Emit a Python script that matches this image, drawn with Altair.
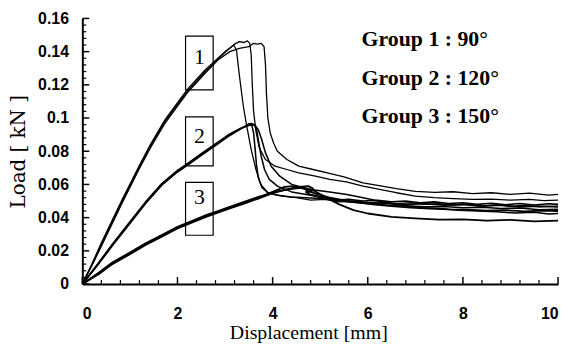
import altair as alt
import pandas as pd

# ---------------- data ----------------
# Group 1 (90 deg) - three specimens
g1a_x = [0, 0.2, 0.42, 0.84, 1.19, 1.43, 1.74, 2.02, 2.23, 2.58, 2.85, 3.0, 3.1, 3.18, 3.24, 3.3, 3.38, 3.45, 3.55, 3.65,
         3.75, 3.9, 4.2, 4.5, 4.8, 5.1, 5.4, 5.7, 6.0, 6.3, 6.6, 6.9, 7.2, 7.5, 7.8, 8.1, 8.4, 8.7, 9.0, 9.3, 9.6, 10.0]
g1a_y = [0, 0.012, 0.026, 0.051, 0.071, 0.084, 0.099, 0.110, 0.118, 0.129, 0.136, 0.140, 0.142, 0.144, 0.141, 0.126, 0.108, 0.096, 0.081, 0.069,
         0.060, 0.055, 0.053, 0.052, 0.0505, 0.051, 0.0495, 0.050, 0.049, 0.0495, 0.0485, 0.049, 0.048, 0.0485, 0.0475, 0.048, 0.047, 0.0478, 0.0468, 0.0475, 0.0465, 0.047]

g1b_x = [0, 0.2, 0.42, 0.84, 1.19, 1.43, 1.74, 2.02, 2.23, 2.58, 2.85, 3.05, 3.2, 3.3, 3.4, 3.47, 3.52, 3.55, 3.57, 3.6,
         3.65, 3.72, 3.85, 4.05, 4.3, 4.55, 4.9, 5.2, 5.55, 5.9, 6.25, 6.6, 7.0, 7.4, 7.8, 8.2, 8.6, 9.0, 9.4, 9.7, 10.0]
g1b_y = [0, 0.0115, 0.025, 0.050, 0.070, 0.083, 0.098, 0.109, 0.117, 0.128, 0.1355, 0.141, 0.1445, 0.146, 0.1455, 0.1465, 0.145, 0.138, 0.122, 0.104,
         0.092, 0.082, 0.075, 0.071, 0.069, 0.067, 0.065, 0.063, 0.0615, 0.059, 0.057, 0.055, 0.053, 0.052, 0.0515, 0.051, 0.0512, 0.0505, 0.051, 0.0503, 0.0505]

g1c_x = [0, 0.2, 0.42, 0.84, 1.19, 1.43, 1.74, 2.02, 2.23, 2.58, 2.85, 3.1, 3.3, 3.5, 3.6, 3.68, 3.76, 3.82, 3.85, 3.87,
         3.9, 3.95, 4.02, 4.1, 4.3, 4.55, 4.85, 5.15, 5.5, 5.9, 6.3, 6.6, 7.0, 7.4, 7.8, 8.2, 8.6, 9.0, 9.4, 9.8, 10.0]
g1c_y = [0, 0.011, 0.024, 0.049, 0.069, 0.082, 0.097, 0.108, 0.116, 0.127, 0.135, 0.140, 0.142, 0.143, 0.145, 0.1445, 0.145, 0.143, 0.132, 0.115,
         0.100, 0.091, 0.085, 0.080, 0.075, 0.071, 0.069, 0.067, 0.0645, 0.061, 0.059, 0.0575, 0.0558, 0.0552, 0.0556, 0.0545, 0.055, 0.054, 0.0548, 0.0535, 0.054]

# Group 2 (120 deg)
g2a_x = [0, 0.3, 0.63, 1.0, 1.33, 1.67, 2.0, 2.23, 2.5, 2.85, 3.1, 3.3,
         3.42, 3.5, 3.56, 3.6, 3.63, 3.66, 3.7, 3.78, 3.9, 4.1, 4.4, 4.7, 5.0, 5.3, 5.6, 5.9, 6.2, 6.5, 6.8, 7.1,
         7.4, 7.7, 8.0, 8.3, 8.6, 8.9, 9.2, 9.5, 9.8, 10.0]
g2a_y = [0, 0.011, 0.0235, 0.037, 0.049, 0.060, 0.068, 0.0725, 0.078, 0.085, 0.090, 0.093,
         0.095, 0.0965, 0.096, 0.091, 0.082, 0.072, 0.064, 0.058, 0.055, 0.0535, 0.0525, 0.052, 0.0515, 0.0505, 0.051, 0.050, 0.0505, 0.0495, 0.050, 0.049,
         0.0495, 0.0485, 0.049, 0.048, 0.0487, 0.0478, 0.0485, 0.0476, 0.0484, 0.048]

g2b_x = [0, 0.3, 0.63, 1.0, 1.33, 1.67, 2.0, 2.23, 2.5, 2.85, 3.1, 3.3, 3.45, 3.55, 3.62, 3.67, 3.71, 3.76, 3.83, 3.93,
         4.1, 4.4, 4.8, 5.2, 5.6, 6.0, 6.4, 6.8, 7.2, 7.6, 8.0, 8.4, 8.8, 9.2, 9.6, 10.0]
g2b_y = [0, 0.0105, 0.023, 0.0365, 0.0485, 0.0595, 0.0675, 0.072, 0.0775, 0.0845, 0.0895, 0.093, 0.0955, 0.0968, 0.096, 0.092, 0.085, 0.077, 0.069, 0.063,
         0.059, 0.0555, 0.0535, 0.051, 0.0495, 0.0485, 0.0475, 0.0472, 0.0465, 0.0467, 0.046, 0.0462, 0.0455, 0.0458, 0.0448, 0.045]

g2c_x = [0, 0.3, 0.63, 1.0, 1.33, 1.67, 2.0, 2.23, 2.5, 2.85, 3.1, 3.3, 3.5, 3.62, 3.7, 3.76, 3.85, 3.97, 4.15, 4.4,
         4.8, 5.2, 5.56, 5.9, 6.3, 6.7, 7.1, 7.5, 7.9, 8.3, 8.7, 9.1, 9.5, 9.8, 10.0]
g2c_y = [0, 0.0112, 0.024, 0.0375, 0.0495, 0.0605, 0.0685, 0.073, 0.0785, 0.0855, 0.0905, 0.0935, 0.0955, 0.096, 0.093, 0.088, 0.079, 0.071, 0.065, 0.060,
         0.057, 0.0555, 0.054, 0.052, 0.0495, 0.0475, 0.046, 0.0455, 0.0445, 0.044, 0.0435, 0.0428, 0.0432, 0.0422, 0.0425]

# Group 3 (150 deg)
g3a_x = [0, 0.35, 0.63, 1.0, 1.33, 1.67, 2.0, 2.3, 2.6, 2.85, 3.1, 3.4, 3.7, 4.0, 4.25, 4.45, 4.65, 4.9, 5.2, 5.6,
         6.0, 6.4, 6.8, 7.2, 7.6, 8.0, 8.4, 8.8, 9.2, 9.6, 10.0]
g3a_y = [0, 0.0065, 0.0125, 0.0185, 0.024, 0.029, 0.034, 0.0375, 0.041, 0.0435, 0.046, 0.049, 0.052, 0.0555, 0.0585, 0.059, 0.0575, 0.0545, 0.052, 0.050,
         0.049, 0.0485, 0.048, 0.0485, 0.0475, 0.048, 0.047, 0.0475, 0.0465, 0.047, 0.0465]

g3b_x = [0, 0.35, 0.63, 1.0, 1.33, 1.67, 2.0, 2.3, 2.6, 2.85, 3.1, 3.4, 3.7, 4.0, 4.3, 4.55, 4.75, 4.85, 4.8, 4.7,
         4.78, 4.95, 5.3, 5.7, 6.1, 6.5, 6.9, 7.3, 7.7, 8.1, 8.5, 8.9, 9.3, 9.7, 10.0]
g3b_y = [0, 0.006, 0.012, 0.018, 0.0235, 0.0285, 0.0335, 0.037, 0.0405, 0.043, 0.0455, 0.0485, 0.0515, 0.0548, 0.057, 0.0585, 0.059, 0.0575, 0.0555, 0.0555,
         0.054, 0.053, 0.051, 0.0495, 0.048, 0.047, 0.046, 0.0455, 0.045, 0.0448, 0.0442, 0.0445, 0.0438, 0.0442, 0.044]

g3c_x = [0, 0.35, 0.63, 1.0, 1.33, 1.67, 2.0, 2.3, 2.6, 2.85, 3.1, 3.4, 3.7, 4.0, 4.3, 4.6, 4.85, 5.1, 5.4, 5.7,
         6.0, 6.5, 7.0, 7.5, 8.0, 8.5, 9.0, 9.5, 10.0]
g3c_y = [0, 0.007, 0.013, 0.019, 0.0245, 0.0295, 0.0345, 0.038, 0.0415, 0.044, 0.0465, 0.0495, 0.0525, 0.055, 0.057, 0.058, 0.0565, 0.0525, 0.048, 0.0445,
         0.0425, 0.0405, 0.0395, 0.0388, 0.039, 0.0382, 0.0387, 0.0378, 0.0382]

# boxed group numbers
box_labels = ["1", "2", "3"]
box_x1 = [2.17, 2.17, 2.17]
box_x2 = [2.75, 2.75, 2.75]
box_y1 = [0.1493, 0.1007, 0.0613]
box_y2 = [0.117, 0.0712, 0.0294]
box_label_x = [2.46, 2.46, 2.46]
box_label_y = [0.1367, 0.0891, 0.0525]

# legend-like annotations
note_texts = ["Group 1 : 90°", "Group 2 : 120°", "Group 3 : 150°"]
note_x = [5.87, 5.87, 5.87]
note_y = [0.1433, 0.120, 0.0971]

# axis ticks
x_major = [0, 2, 4, 6, 8, 10]
x_minor = [0.4, 0.8, 1.2, 1.6, 2.4, 2.8, 3.2, 3.6, 4.4, 4.8, 5.2, 5.6, 6.4, 6.8, 7.2, 7.6, 8.4, 8.8, 9.2, 9.6]
y_major = [0, 0.02, 0.04, 0.06, 0.08, 0.10, 0.12, 0.14, 0.16]
y_minor = [0.004, 0.008, 0.012, 0.016, 0.024, 0.028, 0.032, 0.036, 0.044, 0.048, 0.052, 0.056,
           0.064, 0.068, 0.072, 0.076, 0.084, 0.088, 0.092, 0.096, 0.104, 0.108, 0.112, 0.116,
           0.124, 0.128, 0.132, 0.136, 0.144, 0.148, 0.152, 0.156]

# ---------------- build tables ----------------
curves = [
    ("1a", "1", g1a_x, g1a_y), ("1b", "1", g1b_x, g1b_y), ("1c", "1", g1c_x, g1c_y),
    ("2a", "2", g2a_x, g2a_y), ("2b", "2", g2b_x, g2b_y), ("2c", "2", g2c_x, g2c_y),
    ("3a", "3", g3a_x, g3a_y), ("3b", "3", g3b_x, g3b_y), ("3c", "3", g3c_x, g3c_y),
]
rows = []
for name, grp, xs, ys in curves:
    assert len(xs) == len(ys), (name, len(xs), len(ys))
    for i, (xv, yv) in enumerate(zip(xs, ys)):
        rows.append({"curve": name, "group": grp, "x": xv, "y": yv, "i": i})
df = pd.DataFrame(rows)

boxes = pd.DataFrame({"t": box_labels, "x": box_x1, "x2": box_x2, "y": box_y1, "y2": box_y2})
box_nums = pd.DataFrame({"t": box_labels, "x": box_label_x, "y": box_label_y})
notes = pd.DataFrame({"t": note_texts, "x": note_x, "y": note_y})

W, H = 480, 268
xsc = alt.Scale(domain=[0, 10], nice=False, zero=False)
ysc = alt.Scale(domain=[0, 0.16], nice=False, zero=False)
xax = alt.Axis(title="Displacement [mm]", values=x_major, format="d", labelPadding=22, titlePadding=1,
               titleFont="Liberation Serif", titleFontSize=20, titleX=228)
yax = alt.Axis(title="Load [ kN ]", values=y_major, format="~r", labelPadding=14, titlePadding=9,
               titleFont="DejaVu Serif", titleFontSize=20)
X = lambda f="x": alt.X(f"{f}:Q", scale=xsc, axis=xax)
Y = lambda f="y": alt.Y(f"{f}:Q", scale=ysc, axis=yax)

lines = alt.Chart(df).mark_line(color="black", strokeJoin="round", clip=True).encode(
    x=X(), y=Y(),
    detail="curve:N",
    order="i:Q",
    strokeWidth=alt.StrokeWidth("group:N", scale=alt.Scale(domain=["1", "2", "3"], range=[1.3, 1.8, 2.0]),
                                legend=None),
)

def xticks(vals, length, width):
    return alt.Chart(pd.DataFrame({"x": vals})).mark_rule(color="black", strokeWidth=width).encode(
        x=X(), y=alt.value(H), y2=alt.value(H - length))

def yticks(vals, length, width):
    return alt.Chart(pd.DataFrame({"y": vals})).mark_rule(color="black", strokeWidth=width).encode(
        y=Y(), x=alt.value(0), x2=alt.value(length))

box_rects = alt.Chart(boxes).mark_rect(fillOpacity=0, stroke="black", strokeWidth=1.2).encode(
    x=X(), x2="x2:Q", y=Y(), y2="y2:Q")

box_text = alt.Chart(box_nums).mark_text(font="Liberation Serif", fontSize=22, color="black",
                                         align="center", baseline="middle").encode(
    x=X(), y=Y(), text="t:N")

note_text = alt.Chart(notes).mark_text(font="Liberation Serif", fontSize=22, fontWeight="bold",
                                       color="black", align="left", baseline="alphabetic").encode(
    x=X(), y=Y(), text="t:N")

chart = alt.layer(
    lines,
    xticks(x_major, 7, 1.5), xticks(x_minor, 4, 1.2),
    yticks(y_major, 7, 1.5), yticks(y_minor, 4, 1.2),
    box_rects, box_text, note_text,
).properties(
    width=W, height=H,
    autosize=alt.AutoSizeParams(type="none"),
    padding={"left": 75, "top": 9, "right": 6, "bottom": 63},
).configure_view(stroke=None).configure_axis(
    grid=False, ticks=False, domainColor="black", domainWidth=2,
    labelFont="Liberation Sans", labelFontSize=16, labelFontWeight="bold", labelColor="black",
    titleFontWeight="normal", titleColor="black",
)

chart.save("out.html", embed_options={"renderer": "svg", "actions": False})
